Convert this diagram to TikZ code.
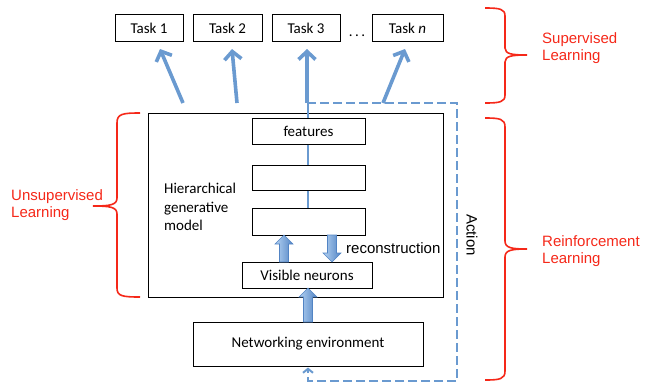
\documentclass[tikz,border=0pt]{standalone}
\usepackage{fontspec}
\setmainfont{Carlito}
\newfontfamily\arialf{Liberation Sans}
\usetikzlibrary{arrows.meta,calc}
\definecolor{ablue}{RGB}{106,154,208}
\definecolor{ablueL}{RGB}{180,210,242}
\definecolor{ablueD}{RGB}{82,132,196}
\definecolor{bred}{RGB}{245,40,25}
\tikzset{
  box/.style={draw=black, line width=1pt, inner sep=0pt, font=\fontsize{15}{18}\selectfont},
  taskarrow/.style={draw=ablue, line width=3.6pt, -{Straight Barb[length=8pt,width=17pt,line width=3.6pt]}},
  thinblue/.style={draw=ablue, line width=1.5pt},
  dashedblue/.style={draw=ablue, line width=2.5pt, dash pattern=on 9pt off 4pt},
  blk/.style={left color=ablueL, right color=ablueD, draw=ablueD, line width=0.6pt},
  brace/.style={draw=bred, line width=1.6pt},
  redtext/.style={text=bred, font=\arialf\fontsize{15}{17.5}\selectfont, align=left, inner sep=0pt}
}
\newcommand\blkup[3]{%
  \shade[blk] (#1-4.5,#2) -- (#1-4.5,#3+9) -- (#1-9,#3+9) -- (#1,#3) -- (#1+9,#3+9) -- (#1+4.5,#3+9) -- (#1+4.5,#2) -- cycle;}
\newcommand\blkdown[3]{%
  \shade[blk] (#1-4.5,#2) -- (#1-4.5,#3-9) -- (#1-9,#3-9) -- (#1,#3) -- (#1+9,#3-9) -- (#1+4.5,#3-9) -- (#1+4.5,#2) -- cycle;}
\begin{document}
\begin{tikzpicture}[x=1pt,y=-1pt]
\useasboundingbox (0,0) rectangle (652,383);
% tasks
\node[box, minimum width=68pt, minimum height=27pt] (t1) at (149,28) {Task 1};
\node[box, minimum width=69pt, minimum height=27pt] (t2) at (227.5,28) {Task 2};
\node[box, minimum width=68pt, minimum height=27pt] (t3) at (306,28) {Task 3};
\node[box, minimum width=71pt, minimum height=27pt] (tn) at (407.5,28) {Task \textit{n}};
\node[font=\fontsize{15}{18}\selectfont, inner sep=0pt, anchor=base] (dots) at (357,36) {.\kern2.5pt.\kern2.5pt.};
% model
\node[box, minimum width=295pt, minimum height=184pt] (model) at (295.5,205) {};
\node[box, minimum width=113pt, minimum height=26pt] (feat) at (308.5,131) {features};
\node[box, minimum width=113pt, minimum height=25pt] (h2) at (308.5,177.5) {};
\node[box, minimum width=113pt, minimum height=27pt] (h3) at (308.5,221.5) {};
\node[box, minimum width=130pt, minimum height=26pt] (vis) at (307,275) {Visible neurons};
\node[box, minimum width=230pt, minimum height=44pt] (net) at (308,344) {Networking environment};
\node[anchor=west, align=left, inner sep=0pt, font=\fontsize{15}{18.5}\selectfont] (hgm) at (164,207) {Hierarchical\\generative\\model};
\node[anchor=west, inner sep=0pt, font=\arialf\fontsize{15}{18}\selectfont] (rec) at (346,248) {reconstruction};
% thin connectors
\coordinate (top) at (308,103);
\draw[thinblue] (top) -- (feat.north -| top);
\draw[thinblue] (feat.south -| top) -- (h2.north -| top);
\draw[thinblue] (h2.south -| top) -- (h3.north -| top);
% task arrows
\coordinate (a1) at (183,103);
\coordinate (a2) at (237,103);
\coordinate (a3) at (307,103);
\coordinate (a4) at (383,103);
\draw[taskarrow] (a1) -- ([xshift=11pt,yshift=-7pt]t1.south);
\draw[taskarrow] (a2) -- ([xshift=4.5pt,yshift=-7pt]t2.south);
\draw[taskarrow] (a3) -- ([xshift=1pt,yshift=-7pt]t3.south);
\draw[taskarrow] (a4) -- ([xshift=-2.5pt,yshift=-7pt]tn.south);
% block arrows
\blkup{284}{262}{235}
\blkdown{332}{235}{262}
\blkup{308}{322}{288}
% dashed action loop
\coordinate (d1) at (457,103);
\coordinate (d2) at (457,381);
\coordinate (d3) at (308,381);
\draw[dashedblue, -{Straight Barb[length=4pt,width=10pt,line width=2pt]}] (a3) -- (d1) -- (d2) -- (d3) -- ([yshift=-1pt]net.south -| d3);
\node[font=\arialf\fontsize{15}{18}\selectfont, rotate=-90, inner sep=0pt] (act) at (472,235) {Action};
% braces
\draw[brace] (140,113) .. controls (122,113) and (117,114) .. (117,123) -- (117,198) .. controls (117,205) and (110,206) .. (93,206) .. controls (110,206) and (117,207) .. (117,214) -- (117,288) .. controls (117,296) and (122,297) .. (140,297);
\draw[brace] (485,8) .. controls (500,8) and (505,9) .. (505,16) -- (505,48) .. controls (505,54) and (512,55) .. (527,55) .. controls (512,55) and (505,56) .. (505,62) -- (505,95) .. controls (505,102) and (500,103) .. (485,103);
\draw[brace] (485,118) .. controls (500,118) and (505,119) .. (505,127) -- (505,241) .. controls (505,248) and (512,249) .. (527,249) .. controls (512,249) and (505,250) .. (505,257) -- (505,371) .. controls (505,379) and (500,380) .. (485,380);
\node[redtext, anchor=west] (ul) at (11,205) {Unsupervised\\Learning};
\node[redtext, anchor=west] (sl) at (542,48) {Supervised\\Learning};
\node[redtext, anchor=west] (rl) at (542,251) {Reinforcement\\Learning};
\end{tikzpicture}
\end{document}
